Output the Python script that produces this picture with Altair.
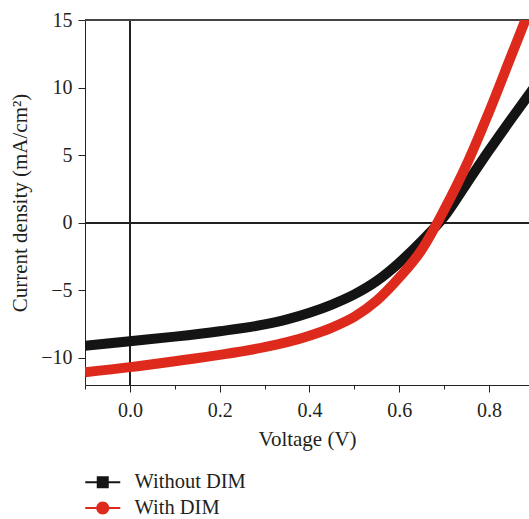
import altair as alt
import pandas as pd

# ---- data ----
voltage = [-0.1, 0.0, 0.1, 0.2, 0.3, 0.35, 0.4, 0.45, 0.5, 0.55, 0.6, 0.65, 0.7, 0.75, 0.8, 0.85, 0.9]
j_without = [-9.1, -8.76, -8.42, -8.02, -7.52, -7.15, -6.66, -6.05, -5.3, -4.3, -2.95, -1.35, 0.45, 2.9, 5.35, 7.7, 10.0]
j_with = [-11.05, -10.68, -10.24, -9.77, -9.2, -8.83, -8.35, -7.75, -6.95, -5.75, -4.05, -2.0, 0.95, 4.3, 8.2, 12.4, 16.6]
series_names = ["Without DIM", "With DIM"]
series_colors = ["#141414", "#de2a1d"]

x_ticks = [-0.1, 0.0, 0.1, 0.2, 0.3, 0.4, 0.5, 0.6, 0.7, 0.8, 0.9]
y_ticks = [-10, -7.5, -5, -2.5, 0, 2.5, 5, 7.5, 10, 12.5, 15]

rows = []
for v, a, b in zip(voltage, j_without, j_with):
    rows.append({"V": v, "J": a, "series": series_names[0]})
    rows.append({"V": v, "J": b, "series": series_names[1]})
df = pd.DataFrame(rows)

FONT = "Liberation Serif"
TXT = "#231f20"

# legend symbols: line through a square / circle (unit = 10 px at symbolSize 400)
sq_path = "M-1.75,-0.1H1.75V0.1H-1.75Z M-0.6,-0.6H0.6V0.6H-0.6Z"
ci_path = "M-1.75,-0.1H1.75V0.1H-1.75Z M0.65,0A0.65,0.65 0 1,1 -0.65,0A0.65,0.65 0 1,1 0.65,0Z"

xscale = alt.Scale(domain=[-0.1, 0.889], nice=False, zero=False)
yscale = alt.Scale(domain=[-12, 15], nice=False, zero=False)

x_enc = alt.X(
    "V:Q", scale=xscale, title="Voltage (V)",
    axis=alt.Axis(
        values=x_ticks, grid=False,
        labelExpr="abs(round(datum.value*10)) % 2 === 1 ? '' : format(datum.value, '.1f')",
        tickSize={"expr": "abs(round(datum.value*10)) % 2 === 1 ? 4 : 7"},
        labelPadding=8, titlePadding=8,
    ),
)
y_enc = alt.Y(
    "J:Q", scale=yscale, title="Current density (mA/cm²)",
    axis=alt.Axis(
        values=y_ticks, grid=False,
        labelExpr="datum.value % 5 === 0 ? format(datum.value, 'd') : ''",
        tickSize={"expr": "datum.value % 5 === 0 ? 7 : 4"},
        labelPadding=6, titlePadding=10,
    ),
)

base = alt.Chart(df)

zero_h = alt.Chart(df).mark_rule(color="#222", strokeWidth=1).encode(y=alt.datum(0, scale=yscale))
zero_v = alt.Chart(df).mark_rule(color="#222", strokeWidth=1).encode(x=alt.datum(0.0, scale=xscale))
top_line = alt.Chart(df).mark_rule(color="#444", strokeWidth=1).encode(y=alt.datum(15, scale=yscale))

legend = alt.Legend(
    title=None, orient="none", legendX=7.5, legendY=452, padding=0,
    symbolSize=400, symbolStrokeWidth=0, labelFont=FONT, labelFontSize=20.5,
    labelColor=TXT, labelOffset=21.5, rowPadding=4.8,
)

pts = base.mark_point(filled=True, size=12, opacity=1, clip=True).encode(
    x=x_enc, y=y_enc,
    color=alt.Color("series:N", scale=alt.Scale(domain=series_names, range=series_colors), legend=legend),
    shape=alt.Shape("series:N", scale=alt.Scale(domain=series_names, range=[sq_path, ci_path]), legend=legend),
)

line_black = base.transform_filter(alt.datum.series == series_names[0]).mark_line(
    color=series_colors[0], strokeWidth=10, interpolate="monotone", clip=True
).encode(x=x_enc, y=y_enc)
line_red = base.transform_filter(alt.datum.series == series_names[1]).mark_line(
    color=series_colors[1], strokeWidth=10, interpolate="monotone", clip=True
).encode(x=x_enc, y=y_enc)

chart = alt.layer(zero_h, zero_v, top_line, pts, line_black, line_red).properties(
    width=444, height=365,
    autosize=alt.AutoSizeParams(type="none"),
    padding={"left": 85, "top": 20, "right": 0, "bottom": 134},
).configure_view(stroke=None).configure_axis(
    domainColor="#222", tickColor="#222", labelFont=FONT, labelFontSize=20, labelColor=TXT,
    titleFont=FONT, titleFontSize=21, titleFontWeight="normal", titleColor=TXT,
)

chart.save("out.html", embed_options={"renderer": "svg", "actions": False})
